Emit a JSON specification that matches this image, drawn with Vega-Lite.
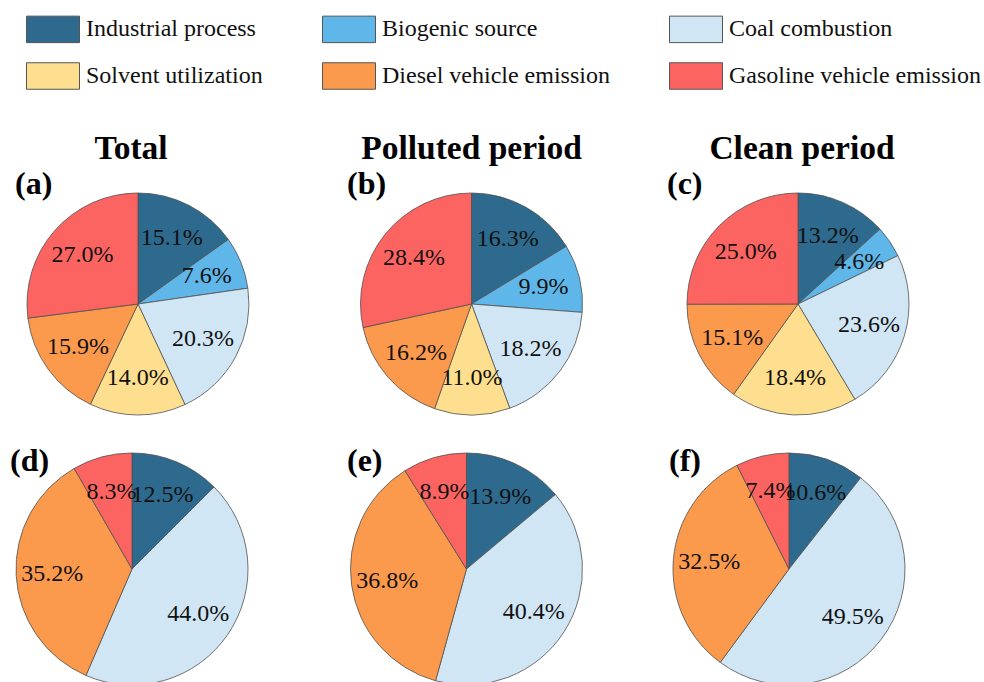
{
  "$schema": "https://vega.github.io/schema/vega-lite/v6.json",
  "autosize": {"type": "pad"},
  "padding": {"left": 0, "top": 2, "right": 0, "bottom": 0},
  "background": "white",
  "data": {
    "values": [
      {"panel": "a", "source": "Industrial process", "value": 15.1},
      {"panel": "a", "source": "Biogenic source", "value": 7.6},
      {"panel": "a", "source": "Coal combustion", "value": 20.3},
      {"panel": "a", "source": "Solvent utilization", "value": 14.0},
      {"panel": "a", "source": "Diesel vehicle emission", "value": 15.9},
      {"panel": "a", "source": "Gasoline vehicle emission", "value": 27.0},
      {"panel": "b", "source": "Industrial process", "value": 16.3},
      {"panel": "b", "source": "Biogenic source", "value": 9.9},
      {"panel": "b", "source": "Coal combustion", "value": 18.2},
      {"panel": "b", "source": "Solvent utilization", "value": 11.0},
      {"panel": "b", "source": "Diesel vehicle emission", "value": 16.2},
      {"panel": "b", "source": "Gasoline vehicle emission", "value": 28.4},
      {"panel": "c", "source": "Industrial process", "value": 13.2},
      {"panel": "c", "source": "Biogenic source", "value": 4.6},
      {"panel": "c", "source": "Coal combustion", "value": 23.6},
      {"panel": "c", "source": "Solvent utilization", "value": 18.4},
      {"panel": "c", "source": "Diesel vehicle emission", "value": 15.1},
      {"panel": "c", "source": "Gasoline vehicle emission", "value": 25.0},
      {"panel": "d", "source": "Industrial process", "value": 12.5},
      {"panel": "d", "source": "Coal combustion", "value": 44.0},
      {"panel": "d", "source": "Diesel vehicle emission", "value": 35.2},
      {"panel": "d", "source": "Gasoline vehicle emission", "value": 8.3},
      {"panel": "e", "source": "Industrial process", "value": 13.9},
      {"panel": "e", "source": "Coal combustion", "value": 40.4},
      {"panel": "e", "source": "Diesel vehicle emission", "value": 36.8},
      {"panel": "e", "source": "Gasoline vehicle emission", "value": 8.9},
      {"panel": "f", "source": "Industrial process", "value": 10.6},
      {"panel": "f", "source": "Coal combustion", "value": 49.5},
      {"panel": "f", "source": "Diesel vehicle emission", "value": 32.5},
      {"panel": "f", "source": "Gasoline vehicle emission", "value": 7.4}
    ]
  },
  "transform": [
    {"calculate": "indexof(['Industrial process','Biogenic source','Coal combustion','Solvent utilization','Diesel vehicle emission','Gasoline vehicle emission'], datum.source)", "as": "rank"},
    {"calculate": "format(datum.value, '.1f') + '%'", "as": "label"}
  ],
  "spacing": 28,
  "vconcat": [
    {
      "spacing": 0,
      "hconcat": [
        {
          "title": {"text": "Total", "anchor": "middle", "frame": "bounds", "dx": -7, "offset": 2, "fontSize": 33.5},
          "vconcat": [{
            "title": {"text": "(a)", "anchor": "start", "frame": "group", "dx": 15, "dy": 10, "offset": 0, "fontSize": 32},
            "width": 276, "height": 222,
            "transform": [{"filter": "datum.panel === 'a'"}],
            "encoding": {
              "theta": {"field": "value", "type": "quantitative", "stack": "normalize"},
              "order": {"field": "rank", "type": "quantitative"}
            },
            "layer": [
              {"mark": {"type": "arc", "outerRadius": 111, "stroke": "#505050", "strokeWidth": 0.8},
               "encoding": {"color": {"field": "source", "type": "nominal",
                 "scale": {"domain": ["Industrial process","Biogenic source","Coal combustion","Solvent utilization","Diesel vehicle emission","Gasoline vehicle emission"],
                           "range": ["#2d6a8e","#5fb6e8","#d1e6f4","#fddf8f","#fb9a4c","#fc6461"]},
                 "legend": {"title": null}}}},
              {"mark": {"type": "text", "radius": 74, "fontSize": 24, "font": "Liberation Serif", "color": "#111111"},
               "encoding": {"text": {"field": "label", "type": "nominal"}}}
            ]
          }]
        },
        {
          "title": {"text": "Polluted period", "anchor": "middle", "frame": "bounds", "dx": 0, "offset": 2, "fontSize": 33.5},
          "vconcat": [{
            "title": {"text": "(b)", "anchor": "start", "frame": "group", "dx": 71, "dy": 10, "offset": 0, "fontSize": 32},
            "width": 391, "height": 222,
            "transform": [{"filter": "datum.panel === 'b'"}],
            "encoding": {
              "theta": {"field": "value", "type": "quantitative", "stack": "normalize"},
              "order": {"field": "rank", "type": "quantitative"}
            },
            "layer": [
              {"mark": {"type": "arc", "outerRadius": 111, "stroke": "#505050", "strokeWidth": 0.8},
               "encoding": {"color": {"field": "source", "type": "nominal",
                 "scale": {"domain": ["Industrial process","Biogenic source","Coal combustion","Solvent utilization","Diesel vehicle emission","Gasoline vehicle emission"],
                           "range": ["#2d6a8e","#5fb6e8","#d1e6f4","#fddf8f","#fb9a4c","#fc6461"]},
                 "legend": {"title": null}}}},
              {"mark": {"type": "text", "radius": 74, "fontSize": 24, "font": "Liberation Serif", "color": "#111111"},
               "encoding": {"text": {"field": "label", "type": "nominal"}}}
            ]
          }]
        },
        {
          "title": {"text": "Clean period", "anchor": "middle", "frame": "bounds", "dx": 4, "offset": 2, "fontSize": 33.5},
          "vconcat": [{
            "title": {"text": "(c)", "anchor": "start", "frame": "group", "dx": 0, "dy": 10, "offset": 0, "fontSize": 32},
            "width": 262, "height": 222,
            "transform": [{"filter": "datum.panel === 'c'"}],
            "encoding": {
              "theta": {"field": "value", "type": "quantitative", "stack": "normalize"},
              "order": {"field": "rank", "type": "quantitative"}
            },
            "layer": [
              {"mark": {"type": "arc", "outerRadius": 111, "stroke": "#505050", "strokeWidth": 0.8},
               "encoding": {"color": {"field": "source", "type": "nominal",
                 "scale": {"domain": ["Industrial process","Biogenic source","Coal combustion","Solvent utilization","Diesel vehicle emission","Gasoline vehicle emission"],
                           "range": ["#2d6a8e","#5fb6e8","#d1e6f4","#fddf8f","#fb9a4c","#fc6461"]},
                 "legend": {"title": null}}}},
              {"mark": {"type": "text", "radius": 74, "fontSize": 24, "font": "Liberation Serif", "color": "#111111"},
               "encoding": {"text": {"field": "label", "type": "nominal"}}}
            ]
          }]
        }
      ]
    },
    {
      "spacing": 0,
      "hconcat": [
        {
          "title": {"text": "(d)", "anchor": "start", "frame": "group", "dx": 10, "dy": 27, "offset": 0, "fontSize": 32},
          "width": 264, "height": 232,
          "transform": [{"filter": "datum.panel === 'd'"}],
          "encoding": {
            "theta": {"field": "value", "type": "quantitative", "stack": "normalize"},
            "order": {"field": "rank", "type": "quantitative"}
          },
          "layer": [
            {"mark": {"type": "arc", "outerRadius": 116, "stroke": "#505050", "strokeWidth": 0.8},
             "encoding": {"color": {"field": "source", "type": "nominal",
               "scale": {"domain": ["Industrial process","Biogenic source","Coal combustion","Solvent utilization","Diesel vehicle emission","Gasoline vehicle emission"],
                         "range": ["#2d6a8e","#5fb6e8","#d1e6f4","#fddf8f","#fb9a4c","#fc6461"]},
               "legend": {"title": null}}}},
            {"mark": {"type": "text", "radius": 80, "fontSize": 24, "font": "Liberation Serif", "color": "#111111"},
             "encoding": {"text": {"field": "label", "type": "nominal"}}}
          ]
        },
        {
          "title": {"text": "(e)", "anchor": "start", "frame": "group", "dx": 83, "dy": 27, "offset": 0, "fontSize": 32},
          "width": 405, "height": 232,
          "transform": [{"filter": "datum.panel === 'e'"}],
          "encoding": {
            "theta": {"field": "value", "type": "quantitative", "stack": "normalize"},
            "order": {"field": "rank", "type": "quantitative"}
          },
          "layer": [
            {"mark": {"type": "arc", "outerRadius": 116, "stroke": "#505050", "strokeWidth": 0.8},
             "encoding": {"color": {"field": "source", "type": "nominal",
               "scale": {"domain": ["Industrial process","Biogenic source","Coal combustion","Solvent utilization","Diesel vehicle emission","Gasoline vehicle emission"],
                         "range": ["#2d6a8e","#5fb6e8","#d1e6f4","#fddf8f","#fb9a4c","#fc6461"]},
               "legend": {"title": null}}}},
            {"mark": {"type": "text", "radius": 80, "fontSize": 24, "font": "Liberation Serif", "color": "#111111"},
             "encoding": {"text": {"field": "label", "type": "nominal"}}}
          ]
        },
        {
          "title": {"text": "(f)", "anchor": "start", "frame": "group", "dx": 0, "dy": 27, "offset": 0, "fontSize": 32},
          "width": 240, "height": 232,
          "transform": [{"filter": "datum.panel === 'f'"}],
          "encoding": {
            "theta": {"field": "value", "type": "quantitative", "stack": "normalize"},
            "order": {"field": "rank", "type": "quantitative"}
          },
          "layer": [
            {"mark": {"type": "arc", "outerRadius": 116, "stroke": "#505050", "strokeWidth": 0.8},
             "encoding": {"color": {"field": "source", "type": "nominal",
               "scale": {"domain": ["Industrial process","Biogenic source","Coal combustion","Solvent utilization","Diesel vehicle emission","Gasoline vehicle emission"],
                         "range": ["#2d6a8e","#5fb6e8","#d1e6f4","#fddf8f","#fb9a4c","#fc6461"]},
               "legend": {"title": null}}}},
            {"mark": {"type": "text", "radius": 80, "fontSize": 24, "font": "Liberation Serif", "color": "#111111"},
             "encoding": {"text": {"field": "label", "type": "nominal"}}}
          ]
        }
      ]
    }
  ],
  "config": {
    "view": {"stroke": null},
    "font": "Liberation Serif",
    "title": {"font": "Liberation Serif", "fontSize": 32, "fontWeight": "bold", "color": "#000000"},
    "legend": {
      "orient": "none",
      "direction": "horizontal",
      "legendX": 26,
      "legendY": -191,
      "columns": 3,
      "columnPadding": 57,
      "rowPadding": 4,
      "symbolType": "M-1,-0.5H1V0.5H-1Z",
      "symbolSize": 2809,
      "symbolStrokeColor": "#555555",
      "symbolStrokeWidth": 1,
      "symbolOpacity": 1,
      "labelFont": "Liberation Serif",
      "labelFontSize": 24,
      "labelColor": "#111111",
      "labelOffset": 6,
      "labelLimit": 400
    }
  }
}
